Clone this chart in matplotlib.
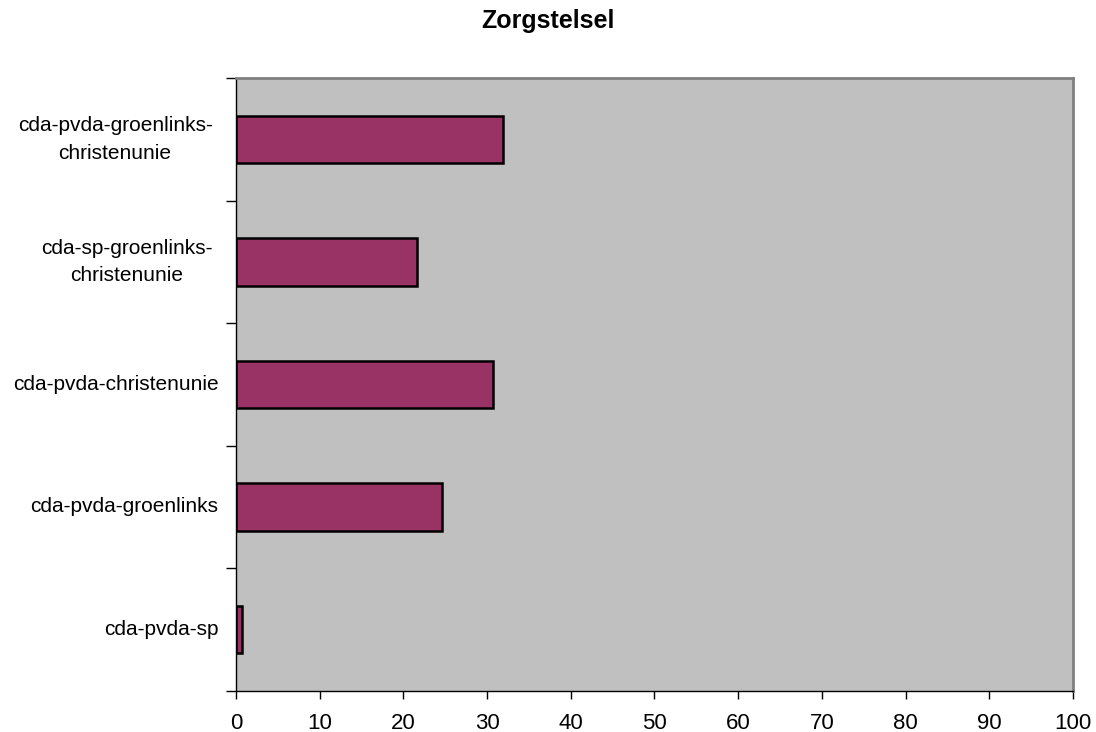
import matplotlib
matplotlib.use('Agg')
import matplotlib.pyplot as plt

# Zorgstelsel - horizontal bars per coalition
coalitions = ['cda-pvda-sp', 'cda-pvda-groenlinks', 'cda-pvda-christenunie',
              'cda-sp-groenlinks-\nchristenunie', 'cda-pvda-groenlinks-\nchristenunie']
scores = [0.7, 24.6, 30.7, 21.6, 31.9]
xticks = list(range(0, 101, 10))

plt.rcParams['font.family'] = ['Liberation Sans', 'DejaVu Sans']

fig = plt.figure(figsize=(10.96, 7.32), dpi=100)
ax = fig.add_axes([0.2153, 0.0564, 0.7637, 0.8366])
ax.set_facecolor('#C0C0C0')

ypos = list(range(len(coalitions)))
ax.barh(ypos, scores, height=0.39, color='#993366', edgecolor='black', linewidth=1.8)

ax.set_xlim(0, 100)
ax.set_ylim(-0.5, len(coalitions) - 0.5)
ax.set_xticks(xticks)
ax.set_xticklabels([str(t) for t in xticks], fontsize=16)

# category ticks sit between bars, labels centred on bars
ax.set_yticks([y - 0.5 for y in ypos] + [len(coalitions) - 0.5])
ax.set_yticklabels([])
ax.tick_params(axis='y', length=7, width=1, direction='out')
ax.tick_params(axis='x', length=6, width=1, direction='out', pad=10)
for y, lab in zip(ypos, coalitions):
    # wrapped labels sit a little further left, as in the original
    xoff = -2.8 if '\n' in lab else -2.1
    ax.text(xoff, y, lab, ha='right', va='center', multialignment='center',
            fontsize=15, linespacing=1.55)

for side in ['top', 'right']:
    ax.spines[side].set_color('#808080')
    ax.spines[side].set_linewidth(2)
for side in ['left', 'bottom']:
    ax.spines[side].set_color('black')
    ax.spines[side].set_linewidth(1)

fig.text(0.5, 0.9617, 'Zorgstelsel', ha='center', va='baseline', fontsize=18, fontweight='bold')

fig.savefig('out.png', dpi=100)
